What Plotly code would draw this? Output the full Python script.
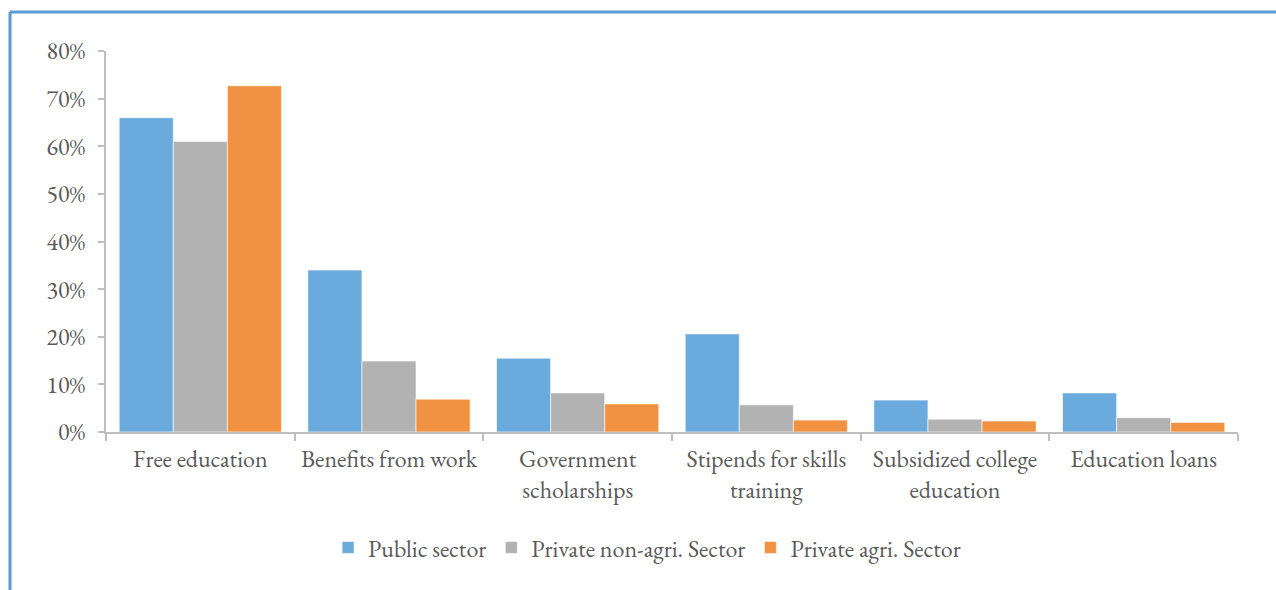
import plotly.graph_objects as go

categories = [
    "Free education",
    "Benefits from work",
    "Government<br>scholarships",
    "Stipends for skills<br>training",
    "Subsidized college<br>education",
    "Education loans",
]
public_sector = [0.660, 0.340, 0.155, 0.206, 0.067, 0.082]
private_non_agri = [0.610, 0.149, 0.082, 0.057, 0.027, 0.030]
private_agri = [0.727, 0.069, 0.059, 0.025, 0.023, 0.020]

series = [
    ("Public sector", public_sector, "#6aaadc"),
    ("Private non-agri. Sector", private_non_agri, "#b2b2b2"),
    ("Private agri. Sector", private_agri, "#f19242"),
]

font_family = "Garamond, 'EB Garamond', 'Liberation Serif', 'DejaVu Serif', serif"
text_color = "#595959"
axis_color = "#bfbfbf"
font_size = 24

fig = go.Figure()
for name, values, color in series:
    fig.add_trace(go.Bar(
        x=categories,
        y=values,
        name=name,
        marker=dict(color=color, line=dict(color="rgba(255,255,255,0.6)", width=1)),
    ))

fig.update_layout(
    width=1276,
    height=590,
    barmode="group",
    bargap=0.14,
    bargroupgap=0,
    plot_bgcolor="white",
    paper_bgcolor="white",
    margin=dict(l=106, r=38, t=51, b=158),
    font=dict(family=font_family, size=font_size, color=text_color),
    showlegend=True,
    legend=dict(
        orientation="h",
        x=0.478,
        xanchor="center",
        y=-0.245,
        yanchor="top",
        font=dict(family=font_family, size=font_size, color=text_color),
        itemwidth=30,
        traceorder="normal",
    ),
    xaxis=dict(
        showline=True,
        linecolor=axis_color,
        linewidth=2,
        ticks="outside",
        tickson="boundaries",
        ticklen=7,
        tickcolor=axis_color,
        tickwidth=2,
        showgrid=False,
        ticklabelstandoff=4,
        tickfont=dict(family=font_family, size=font_size, color=text_color),
    ),
    yaxis=dict(
        range=[0, 0.8],
        dtick=0.1,
        tickformat=".0%",
        showline=True,
        linecolor=axis_color,
        linewidth=2,
        ticks="outside",
        ticklen=6,
        tickcolor=axis_color,
        tickwidth=2,
        showgrid=False,
        zeroline=False,
        ticklabelstandoff=8,
        tickfont=dict(family=font_family, size=font_size, color=text_color),
    ),
    shapes=[
        # chart frame: top edge and left edge
        dict(type="line", xref="paper", yref="paper",
             x0=-0.0848, x1=1.05, y0=1.1024, y1=1.1024,
             line=dict(color="#5b9bd5", width=3)),
        dict(type="line", xref="paper", yref="paper",
             x0=-0.0848, x1=-0.0848, y0=1.1024, y1=-0.5,
             line=dict(color="#5b9bd5", width=3)),
    ],
)

fig.write_html("out.html")
